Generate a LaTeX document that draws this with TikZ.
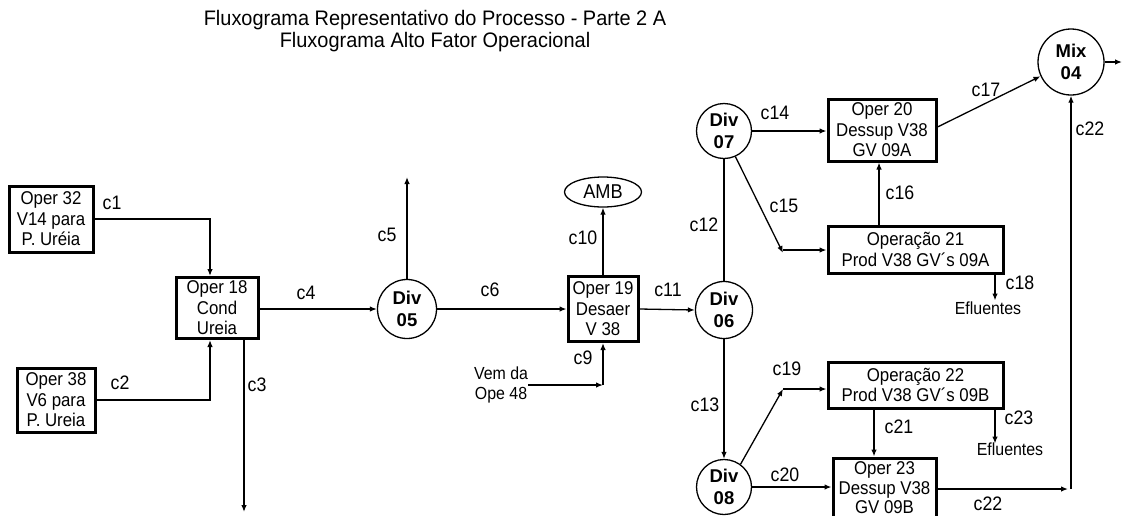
\documentclass[tikz,border=0pt]{standalone}
\usepackage{fontspec}
\setmainfont[FakeStretch=0.91]{Liberation Sans}
\newfontfamily\divfont{Liberation Sans}
\newfontfamily\titlefont[FakeStretch=0.95]{Liberation Sans}
\usetikzlibrary{arrows.meta,shapes.geometric}
\tikzset{
  opbox/.style={draw, line width=3pt, inner sep=0pt, align=center, font=\fontsize{18.5}{20.5}\selectfont},
  divc/.style={draw, circle, line width=1.3pt, inner sep=0pt, align=center, font=\divfont\bfseries\fontsize{18.5}{22}\selectfont},
  lbl/.style={font=\fontsize{19.5}{20}\selectfont, inner sep=0pt},
  small/.style={font=\fontsize{17.5}{20}\selectfont, inner sep=0pt, align=center},
  flow/.style={line width=1.3pt, -{Latex[length=7pt,width=5.5pt]}},
  plain/.style={line width=1.3pt},
}
\begin{document}
\begin{tikzpicture}[x=1pt,y=-1pt]
\clip (0,0) rectangle (1123,515);
\fill[white] (0,0) rectangle (1123,515);
% title
\node[font=\titlefont\fontsize{21}{22}\selectfont, align=center] (title) at (435,31) {Fluxograma Representativo do Processo - Parte 2 A\\Fluxograma Alto Fator Operacional};
% boxes
\node[opbox, minimum width=84pt, minimum height=66pt] (o32) at (51,219) {Oper 32\\V14 para\\P. Uréia};
\node[opbox, minimum width=82pt, minimum height=61pt] (o18) at (217,308) {Oper 18\\Cond\\Ureia};
\node[opbox, minimum width=78pt, minimum height=64pt] (o38) at (56,400) {Oper 38\\V6 para\\P. Ureia};
\node[divc, minimum size=59pt] (d05) at (407,309) {Div\\05};
\node[opbox, minimum width=70pt, minimum height=65pt] (o19) at (603,309) {Oper 19\\Desaer\\V 38};
\node[draw, ellipse, line width=1.3pt, minimum width=77pt, minimum height=30pt, inner sep=0pt, font=\fontsize{20}{20}\selectfont] (amb) at (603,192) {AMB};
\node[small] (vem) at (501,385) {Vem da\\Ope 48};
\node[divc, minimum size=57pt] (d06) at (724,310) {Div\\06};
\node[divc, minimum size=55pt] (d07) at (724,131) {Div\\07};
\node[opbox, minimum width=108pt, minimum height=62pt] (o20) at (882,130) {Oper 20\\Dessup V38\\GV 09A};
\node[opbox, minimum width=175pt, minimum height=47pt] (o21) at (915.5,249.5) {Operação 21\\Prod V38 GV´s 09A};
\node[divc, minimum size=66pt] (mix) at (1071,62) {Mix\\04};
\node[divc, minimum size=55pt] (d08) at (724,487) {Div\\08};
\node[opbox, minimum width=175pt, minimum height=46pt] (o22) at (915.5,385) {Operação 22\\Prod V38 GV´s 09B};
\node[opbox, minimum width=103pt, minimum height=60pt, font=\fontsize{18.5}{19.5}\selectfont] (o23) at (884.5,488) {Oper 23\\Dessup V38\\GV 09B};
\node[small] (ef1) at (988,308) {Efluentes};
\node[small] (ef2) at (1010,449) {Efluentes};
% free ends / bends
\coordinate (c3e) at (244,512);
\coordinate (c5e) at (407,177);
\coordinate (k9) at (603,385);
\coordinate (k15) at (783,250);
\coordinate (k19) at (783,389);
\coordinate (k22) at (1071,489);
\coordinate (mixout) at (1122,62);
% connectors
\draw[flow] (o32.east) -| ([xshift=-7pt]o18.north);
\draw[flow] (o38.east) -| ([xshift=-7pt]o18.south);
\draw[flow] ([xshift=27pt]o18.south) -- (c3e);
\draw[flow] (o18.east |- d05.west) -- (d05.west);
\draw[flow] (d05.north) -- (c5e);
\draw[flow] (d05.east) -- (o19.west);
\draw[flow] (o19.north) -- (amb.south);
\draw[flow] (vem.east |- k9) -- (k9);
\draw[flow] (k9) -- (o19.south);
\draw[flow] (o19.east) -- (d06.west);
\draw[plain] (d06.north) -- (d07.south);
\draw[flow] (d07.-66) -- ([yshift=-3pt]k15);
\draw[flow] (d07.east) -- (d07.east -| o20.west);
\draw[flow] (k15) -- (k15 -| o21.west);
\draw[flow] ([xshift=-36.5pt]o21.north) -- ([xshift=-3pt]o20.south);
\draw[flow] ([xshift=79.5pt]o21.south) -- ++(0,26);
\draw[flow] ([yshift=3pt]o20.east) -- (mix.205);
\draw[flow] (mix.east) -- (mixout);
\draw[flow] (k22) -- (mix.south);
\draw[flow] (o23.east |- k22) -- ([xshift=-3pt]k22);
\draw[flow] (d06.south) -- (d08.north);
\draw[flow] (d08.54) -- (k19);
\draw[flow] (k19) -- (k19 -| o22.west);
\draw[flow] ([xshift=-41.5pt]o22.south) -- ([xshift=-10.5pt]o23.north);
\draw[flow] ([xshift=79.5pt]o22.south) -- ++(0,34);
\draw[flow] (d08.east) -- (d08.east -| o23.west);
% labels
\node[lbl] (l1) at (112,203) {c1};
\node[lbl] (l2) at (120,383) {c2};
\node[lbl] (l3) at (257,385) {c3};
\node[lbl] (l4) at (306,293) {c4};
\node[lbl] (l5) at (387,235) {c5};
\node[lbl] (l6) at (490,290) {c6};
\node[lbl] (l10) at (583,238) {c10};
\node[lbl] (l9) at (583,358) {c9};
\node[lbl] (l11) at (668,290) {c11};
\node[lbl] (l12) at (704,225) {c12};
\node[lbl] (l13) at (705,405) {c13};
\node[lbl] (l14) at (775,113) {c14};
\node[lbl] (l15) at (784,206) {c15};
\node[lbl] (l16) at (900,193) {c16};
\node[lbl] (l17) at (986,90) {c17};
\node[lbl] (l18) at (1020,283) {c18};
\node[lbl] (l19) at (787,369) {c19};
\node[lbl] (l20) at (785,475) {c20};
\node[lbl] (l21) at (899,427) {c21};
\node[lbl] (l22) at (1090,129) {c22};
\node[lbl] (l22b) at (988,504) {c22};
\node[lbl] (l23) at (1019,418) {c23};
\end{tikzpicture}
\end{document}
